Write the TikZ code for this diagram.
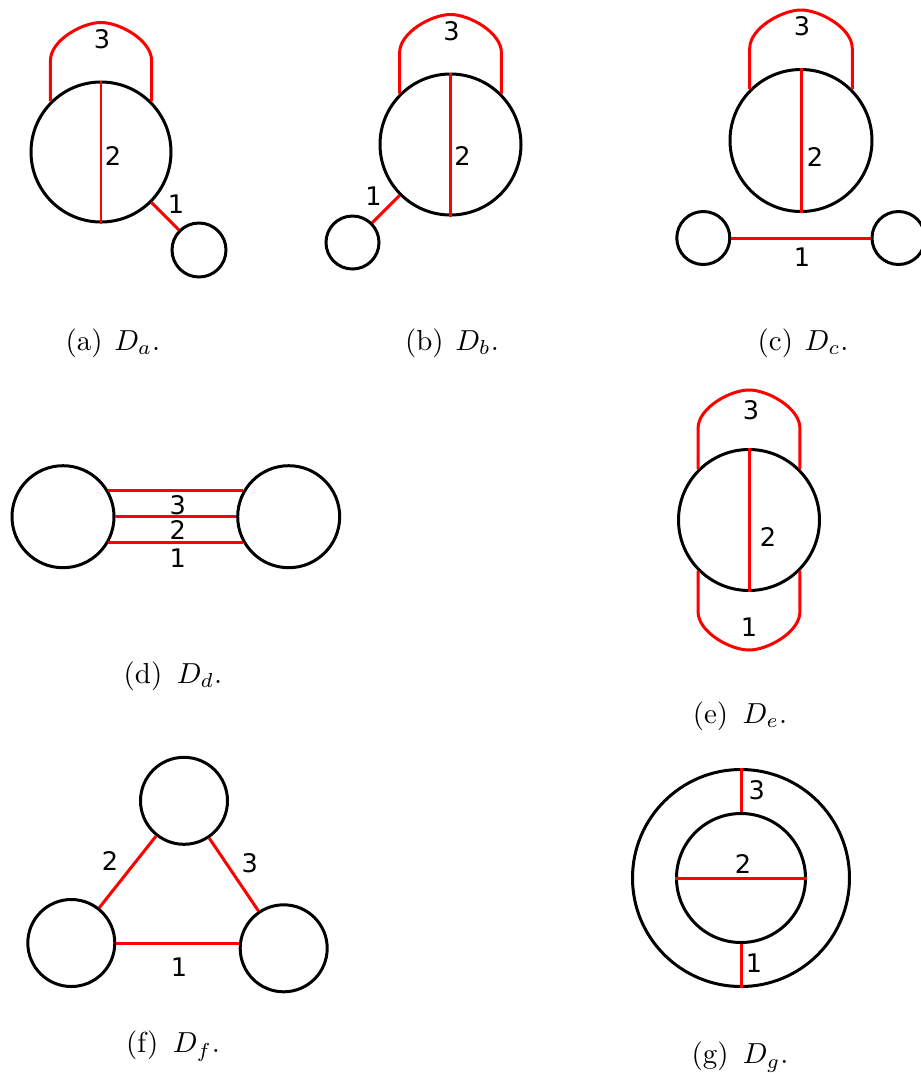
\documentclass[tikz,border=0pt]{standalone}
\usepackage{fontspec}
\newfontfamily\numfont{DejaVu Sans}
\usetikzlibrary{calc}
\definecolor{edgered}{HTML}{FF0000}
\tikzset{
  vertex/.style   = {circle, draw=black, line width=1.7pt, inner sep=0pt,
                     minimum size=#1*0.5669pt},
  chord/.style    = {draw=edgered, line width=1.7pt},
  loopedge/.style = {draw=edgered, line width=1.7pt, line join=round},
  num/.style      = {inner sep=0pt, font=\fontsize{14.5}{14.5}\selectfont\numfont},
  subcap/.style   = {inner sep=0pt, font=\normalsize, scale=1.64, transform shape},
}

\begin{document}
\begin{tikzpicture}[x=0.5669pt, y=-0.5669pt]
  \clip (0,0) rectangle (921,1073);

  % (a)
  \node[vertex=140] (a2) at (101,152) {};
  \node[vertex=54] (a1) at (199,250) {};
  \draw[chord] (a2.north) -- (a2.south);
  \draw[chord] (a2) -- (a1);
  \draw[loopedge] (a2.135) -- ++(0,-41) .. controls +(0,-20) and +(-19,0) .. ($(a2.north)+(0,-58)$)
        .. controls +(19,0) and +(0,-20) .. ($(a2.45)+(0,-41)$) -- (a2.45);
  \node[num] at ($(a2.north)+(1,-41)$) {3};
  \node[num] at ($(a2.center)+(12,4)$) {2};
  \node[num] at ($(a1.center)+(-23,-46)$) {1};
  \node[subcap] at (113,343) {(a)\hspace{0.4em}$D_a$.};

  % (b)
  \node[vertex=141] (b2) at (450.5,144.5) {};
  \node[vertex=53] (b1) at (352.5,242.5) {};
  \draw[chord] (b2.north) -- (b2.south);
  \draw[chord] (b2) -- (b1);
  \draw[loopedge] (b2.135) -- ++(0,-41) .. controls +(0,-20) and +(-19,0) .. ($(b2.north)+(0,-58)$)
        .. controls +(19,0) and +(0,-20) .. ($(b2.45)+(0,-41)$) -- (b2.45);
  \node[num] at ($(b2.north)+(1,-41)$) {3};
  \node[num] at ($(b2.center)+(12,11)$) {2};
  \node[num] at ($(b1.center)+(21,-46)$) {1};
  \node[subcap] at (452,343) {(b)\hspace{0.4em}$D_b$.};

  % (c)
  \node[vertex=142] (c2) at (801,140.5) {};
  \node[vertex=53] (c1) at (703.3,238) {};
  \node[vertex=53] (c3) at (898.5,238) {};
  \draw[chord] (c2.north) -- (c2.south);
  \draw[chord] (c1) -- (c3);
  \draw[loopedge] (c2.135) -- ++(0,-41) .. controls +(0,-20) and +(-19,0) .. ($(c2.north)+(0,-58)$)
        .. controls +(19,0) and +(0,-20) .. ($(c2.45)+(0,-41)$) -- (c2.45);
  \node[num] at ($(c2.north)+(1,-42)$) {3};
  \node[num] at ($(c2.center)+(14,16)$) {2};
  \node[num] at ($(c1.east)!0.5!(c3.west)+(1,19)$) {1};
  \node[subcap] at (803,343) {(c)\hspace{0.4em}$D_c$.};

  % (d)
  \node[vertex=102] (d1) at (63,516.7) {};
  \node[vertex=102] (d2) at (288.7,516.7) {};
  \draw[chord] (d1.30) -- (d2.150);
  \draw[chord] (d1.east) -- (d2.west);
  \draw[chord] (d1.-30) -- (d2.-150);
  \node[num] at ($(d1.center)!0.5!(d2.center)+(2,-12)$) {3};
  \node[num] at ($(d1.center)!0.5!(d2.center)+(2,13)$) {2};
  \node[num] at ($(d1.center)!0.5!(d2.center)+(2,41)$) {1};
  \node[subcap] at (173,676) {(d)\enspace$D_d$.};

  % (e)
  \node[vertex=141] (e) at (749,520) {};
  \draw[chord] (e.north) -- (e.south);
  \draw[loopedge] (e.135) -- ++(0,-41) .. controls +(0,-20) and +(-19,0) .. ($(e.north)+(0,-58)$)
        .. controls +(19,0) and +(0,-20) .. ($(e.45)+(0,-41)$) -- (e.45);
  \draw[loopedge] (e.225) -- ++(0,41) .. controls +(0,20) and +(-19,0) .. ($(e.south)+(0,58)$)
        .. controls +(19,0) and +(0,20) .. ($(e.-45)+(0,41)$) -- (e.-45);
  \node[num] at ($(e.north)+(2,-38)$) {3};
  \node[num] at ($(e.center)+(19,17)$) {2};
  \node[num] at ($(e.south)+(0,35)$) {1};
  \node[subcap] at (740,716) {(e)\enspace$D_e$.};

  % (f)
  \node[vertex=87] (ft) at (184,800.8) {};
  \node[vertex=87] (fl) at (71.3,943) {};
  \node[vertex=87] (fr) at (283.7,948.3) {};
  \draw[chord] (fl.east) -- (fl.east -| fr.west);
  \draw[chord] (fl) -- (ft);
  \draw[chord] (ft) -- (fr);
  \node[num] at (110,861) {2};
  \node[num] at (249.7,863) {3};
  \node[num] at (179,966.7) {1};
  \node[subcap] at (173,1046) {(f)\enspace$D_f$.};

  % (g)
  \node[vertex=217] (go) at (741,878) {};
  \node[vertex=129] (gi) at (741,878) {};
  \draw[chord] (gi.west) -- (gi.east);
  \draw[chord] (go.north) -- (gi.north);
  \draw[chord] (gi.south) -- (go.south);
  \node[num] at ($(gi.center)+(2,-14.5)$) {2};
  \node[num] at ($(go.north)!0.5!(gi.north)+(15.7,0)$) {3};
  \node[num] at ($(gi.south)!0.5!(go.south)+(13,-3)$) {1};
  \node[subcap] at (740,1057) {(g)\enspace$D_g$.};

\end{tikzpicture}
\end{document}
